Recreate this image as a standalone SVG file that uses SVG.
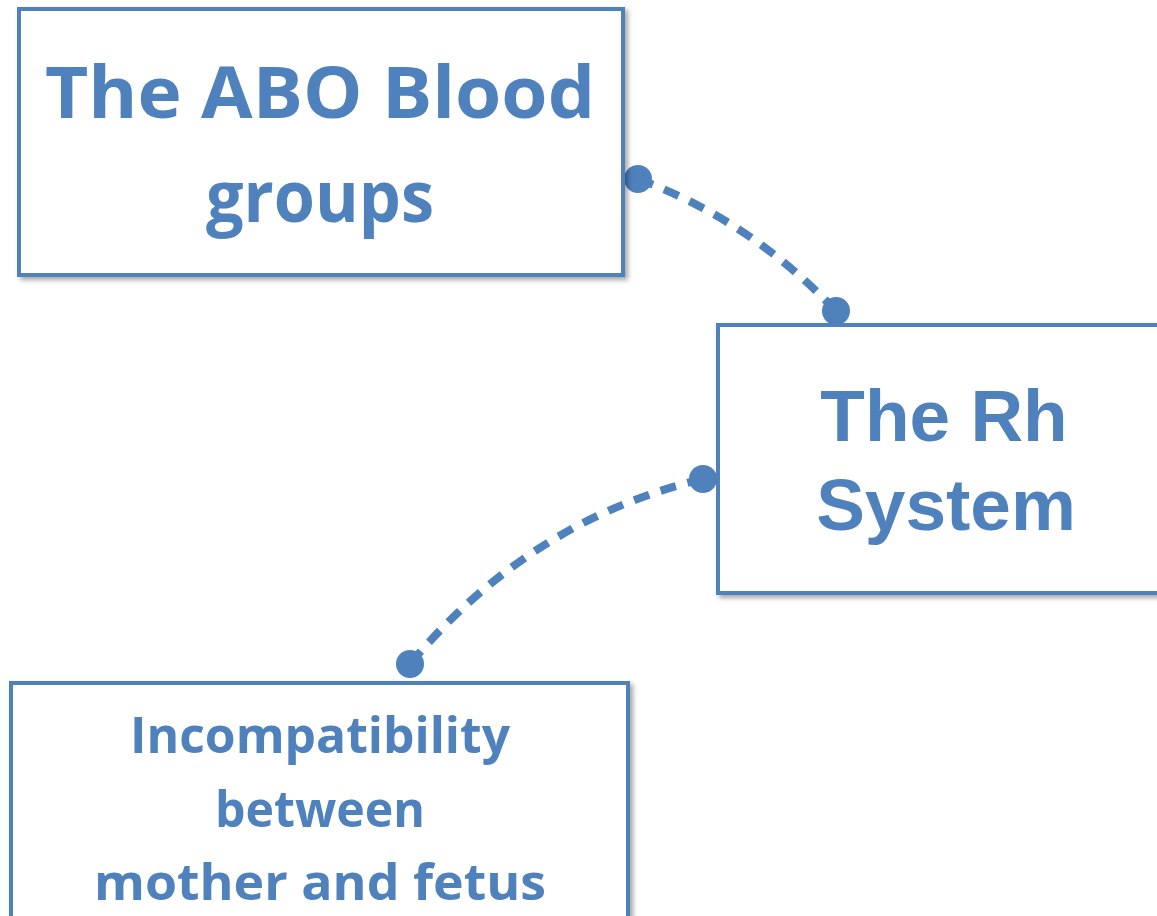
<svg xmlns="http://www.w3.org/2000/svg" width="1157" height="916" viewBox="0 0 1157 916">
<style>
.box{fill:#fff;stroke:#4F81BD;stroke-width:4;filter:url(#sh)}
.comic{font-family:"Open Sans","DejaVu Sans",sans-serif;font-weight:bold;fill:#4F81BD;text-anchor:middle}
.helv{font-family:"Liberation Sans",Arial,sans-serif;font-weight:bold;fill:#4F81BD;text-anchor:middle}
.con{fill:none;stroke:#4F81BD;stroke-width:8;stroke-dasharray:16 12}
.dot{fill:#4F81BD}
</style>
<defs>
<filter id="sh" x="-10%" y="-10%" width="120%" height="120%">
<feGaussianBlur in="SourceAlpha" stdDeviation="2.5"/>
<feOffset dx="3" dy="3" result="b"/>
<feFlood flood-color="#000" flood-opacity="0.35"/>
<feComposite in2="b" operator="in"/>
<feMerge><feMergeNode/><feMergeNode in="SourceGraphic"/></feMerge>
</filter>
</defs>
<rect width="1157" height="916" fill="#fff"/>
<g id="connectors">
<path class="con" d="M638,179 Q750,220 836,311"/>
<circle class="dot" cx="638" cy="179" r="14"/>
<circle class="dot" cx="836" cy="311" r="14"/>
<path class="con" d="M703,479 Q530,520 410,664"/>
<circle class="dot" cx="703" cy="479" r="14"/>
<circle class="dot" cx="410" cy="664" r="14"/>
</g>
<g id="abo">
<rect class="box" x="19" y="9" width="604" height="266"/>
<text class="comic" x="320" y="118" font-size="72" textLength="550" lengthAdjust="spacingAndGlyphs">The ABO Blood</text>
<text class="comic" x="320" y="222" font-size="72" textLength="228" lengthAdjust="spacingAndGlyphs">groups</text>
</g>
<g id="rh">
<rect class="box" x="718" y="325" width="460" height="268"/>
<text class="helv" x="944" y="441" font-size="73">The Rh</text>
<text class="helv" x="946" y="530" font-size="73">System</text>
</g>
<g id="incompat">
<rect class="box" x="11" y="683" width="617" height="260"/>
<text class="comic" x="320" y="753" font-size="50" textLength="380" lengthAdjust="spacingAndGlyphs">Incompatibility</text>
<text class="comic" x="320" y="827" font-size="50" textLength="210" lengthAdjust="spacingAndGlyphs">between</text>
<text class="comic" x="320" y="900" font-size="50" textLength="452" lengthAdjust="spacingAndGlyphs">mother and fetus</text>
</g>
</svg>
